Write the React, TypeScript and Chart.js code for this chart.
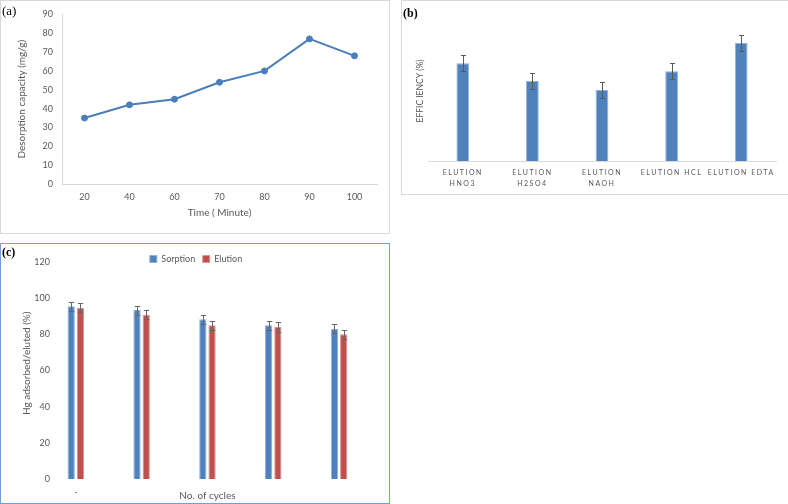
import React, { useEffect, useRef } from "react";
import { Chart, registerables } from "chart.js";

Chart.register(...registerables);

// ---------- data ----------
const timeLabels = ["20", "40", "60", "70", "80", "90", "100"];
const desorption = [35, 42, 45, 54, 60, 77, 68];

const elutionLabels: (string | string[])[] = [
  ["ELUTION", "HNO3"],
  ["ELUTION", "H2SO4"],
  ["ELUTION", "NAOH"],
  "ELUTION HCL",
  "ELUTION EDTA",
];
const efficiency = [69.8, 57.4, 50.7, 64.1, 84.3];
const efficiencyErr = [5.7, 5.7, 5.7, 5.7, 5.7];

const cycleLabels = ["-", "", "", "", ""];
const sorption = [95.5, 93.3, 88.3, 85, 83];
const elution = [94.5, 90.8, 85, 84, 80];
const sorptionErr = [2.5, 2.5, 2.5, 2.5, 2.5];
const elutionErr = [2.5, 2.5, 2.5, 2.5, 2.5];

// ---------- styles ----------
const FONT = "Lato";
const TXT = "#595959";
const AXIS = "#d9d9d9";
const BLUE = "#4f81bd";
const RED = "#c0504d";
const LINE = "#4a7ebb";

Chart.defaults.font.family = FONT;

const errorBars = (cap: number, color: string) => ({
  id: "errorBars",
  afterDatasetsDraw(chart: any) {
    const ctx = chart.ctx;
    const y = chart.scales.y;
    chart.data.datasets.forEach((ds: any, i: number) => {
      const errs = ds.errors;
      if (!errs) return;
      const meta = chart.getDatasetMeta(i);
      meta.data.forEach((bar: any, j: number) => {
        const v = ds.data[j];
        const e = errs[j];
        const x = Math.round(bar.x) + 0.5;
        const t = Math.round(y.getPixelForValue(v + e)) + 0.5;
        const b = Math.round(y.getPixelForValue(v - e)) + 0.5;
        ctx.save();
        ctx.strokeStyle = color;
        ctx.lineWidth = 1;
        ctx.beginPath();
        ctx.moveTo(x, t);
        ctx.lineTo(x, b);
        ctx.moveTo(x - cap, t);
        ctx.lineTo(x + cap, t);
        ctx.moveTo(x - cap, b);
        ctx.lineTo(x + cap, b);
        ctx.stroke();
        ctx.restore();
      });
    });
  },
});

const letterSpacing = (sp: string) => ({
  id: "letterSpacing",
  afterDatasetsDraw(chart: any) {
    (chart.ctx as any).letterSpacing = sp;
  },
  afterDraw(chart: any) {
    (chart.ctx as any).letterSpacing = "0px";
  },
});

// moves the (top) legend box so that it sits beside the first tick, as in the source figure
const legendPlace = (dx: number, top: number) => ({
  id: "legendPlace",
  afterLayout(chart: any) {
    const l = chart.legend;
    if (l) {
      const h = l.bottom - l.top;
      l.top = top;
      l.bottom = top + h;
      l.left += dx;
      l.right += dx;
    }
  },
});

function useChart(ref: React.RefObject<HTMLCanvasElement>, make: () => any) {
  useEffect(() => {
    if (!ref.current) return;
    const chart = new Chart(ref.current, make());
    return () => chart.destroy();
  }, []);
}

export default function App() {
  const refA = useRef<HTMLCanvasElement>(null);
  const refB = useRef<HTMLCanvasElement>(null);
  const refC = useRef<HTMLCanvasElement>(null);

  useChart(refA, () => ({
    type: "line",
    data: {
      labels: timeLabels,
      datasets: [
        {
          data: desorption,
          borderColor: LINE,
          backgroundColor: LINE,
          borderWidth: 2,
          pointRadius: 3,
          pointBorderWidth: 1,
          pointBackgroundColor: LINE,
          pointBorderColor: LINE,
          tension: 0,
        },
      ],
    },
    options: {
      animation: false,
      responsive: false,
      devicePixelRatio: 1,
      layout: { padding: { top: 12, right: 13, left: 0, bottom: 0 } },
      plugins: { legend: { display: false }, tooltip: { enabled: false } },
      scales: {
        x: {
          offset: true,
          grid: { display: false, drawTicks: false },
          border: { display: true, color: AXIS },
          ticks: { color: TXT, font: { size: 9 }, padding: 8 },
          title: {
            display: true,
            text: "Time ( Minute)",
            color: TXT,
            font: { size: 10 },
            padding: { top: 0, bottom: 15 },
          },
          afterFit: (s: any) => {
            s.height = 50;
          },
        },
        y: {
          min: 0,
          max: 90,
          grid: { display: false, drawTicks: false },
          border: { display: true, color: AXIS },
          ticks: { stepSize: 10, color: TXT, font: { size: 9 }, padding: 9 },
          title: {
            display: true,
            text: "Desorption capacity (mg/g)",
            color: TXT,
            font: { size: 10 },
            padding: { top: 16, bottom: 0 },
          },
          afterFit: (s: any) => {
            s.width = 62;
          },
        },
      },
    },
  }));

  useChart(refB, () => ({
    type: "bar",
    data: {
      labels: elutionLabels,
      datasets: [
        {
          data: efficiency,
          errors: efficiencyErr,
          backgroundColor: BLUE,
          borderColor: "#8fb0da",
          borderWidth: 1,
          barPercentage: 0.183,
          categoryPercentage: 1,
        },
      ],
    },
    options: {
      animation: false,
      responsive: false,
      devicePixelRatio: 1,
      layout: { padding: { top: 21, right: 13, left: 0, bottom: 0 } },
      plugins: { legend: { display: false }, tooltip: { enabled: false } },
      scales: {
        x: {
          grid: { display: false, drawTicks: false },
          border: { display: true, color: AXIS },
          ticks: {
            color: TXT,
            font: { size: 7, lineHeight: 1.571 },
            padding: 5.8,
            z: 1,
            autoSkip: false,
            maxRotation: 0,
            minRotation: 0,
          },
          afterFit: (s: any) => {
            s.height = 34;
          },
        },
        y: {
          min: 0,
          max: 100,
          grid: { display: false, drawTicks: false },
          border: { display: false },
          ticks: { display: false },
          title: {
            display: true,
            text: "EFFIC IENCY (%)",
            color: TXT,
            font: { size: 8.5 },
            padding: { top: 14, bottom: 0 },
          },
          afterFit: (s: any) => {
            s.width = 27;
          },
        },
      },
    },
    plugins: [errorBars(2.5, "#595959"), letterSpacing("1.5px")],
  }));

  useChart(refC, () => ({
    type: "bar",
    data: {
      labels: cycleLabels,
      datasets: [
        {
          label: "Sorption",
          data: sorption,
          errors: sorptionErr,
          backgroundColor: BLUE,
          borderColor: "#8fb0da",
          borderWidth: 1,
          barPercentage: 0.79,
          categoryPercentage: 0.28,
        },
        {
          label: "Elution",
          data: elution,
          errors: elutionErr,
          backgroundColor: RED,
          borderColor: "#dc9593",
          borderWidth: 1,
          barPercentage: 0.79,
          categoryPercentage: 0.28,
        },
      ],
    },
    options: {
      animation: false,
      responsive: false,
      devicePixelRatio: 1,
      layout: { padding: { top: -22.3, right: 18, left: 0, bottom: 0 } },
      plugins: {
        legend: {
          display: true,
          position: "top",
          align: "center",
          labels: {
            boxWidth: 7,
            boxHeight: 7,
            padding: 7.5,
            color: TXT,
            font: { size: 9 },
          },
        },
        tooltip: { enabled: false },
      },
      scales: {
        x: {
          grid: { display: false, drawTicks: false },
          border: { display: false },
          ticks: { color: TXT, font: { size: 9 }, padding: 7.3, autoSkip: false, maxRotation: 0 },
          title: {
            display: true,
            text: "No. of cycles",
            color: TXT,
            font: { size: 10 },
            padding: { top: 0, bottom: 2 },
          },
          afterFit: (s: any) => {
            s.height = 24.7;
          },
        },
        y: {
          min: 0,
          max: 128,
          grid: { display: false, drawTicks: false },
          border: { display: false },
          ticks: {
            stepSize: 20,
            includeBounds: false,
            color: TXT,
            font: { size: 9 },
            mirror: true,
            crossAlign: "far",
            padding: -8.6,
          },
          title: {
            display: true,
            text: "Hg adsorbed/eluted (%)",
            color: TXT,
            font: { size: 10 },
            padding: { top: 21, bottom: 0 },
          },
          afterFit: (s: any) => {
            s.width = 42.9;
            s.paddingTop = 0;
            s.paddingBottom = 0;
          },
        },
      },
    },
    plugins: [errorBars(2.7, "#666666"), legendPlace(10, 4)],
  }));

  const label = (extra: React.CSSProperties): React.CSSProperties => ({
    position: "absolute",
    fontFamily: "'Liberation Serif', serif",
    fontSize: 13,
    lineHeight: "15px",
    color: "#000",
    ...extra,
  });

  return (
    <div
      style={{
        position: "fixed",
        left: 0,
        top: 0,
        width: 788,
        height: 504,
        overflow: "hidden",
        background: "#fff",
      }}
    >
      <div
        style={{
          position: "absolute",
          left: 0,
          top: 0,
          width: 390,
          height: 234,
          boxShadow: `inset 0 0 0 1px ${AXIS}`,
        }}
      >
        <canvas ref={refA} width={390} height={234} style={{ position: "absolute", left: 0, top: 0 }} />
        <span style={label({ left: 2, top: 3 })}>(a)</span>
      </div>
      <div
        style={{
          position: "absolute",
          left: 401,
          top: 0,
          width: 392,
          height: 195,
          boxShadow: `inset 0 0 0 1px ${AXIS}`,
        }}
      >
        <canvas ref={refB} width={388} height={195} style={{ position: "absolute", left: 0, top: 0 }} />
        <span style={label({ left: 2, top: 6, fontWeight: "bold", fontSize: 12 })}>(b)</span>
      </div>
      <div
        style={{
          position: "absolute",
          left: 0,
          top: 243,
          width: 390,
          height: 261,
          boxShadow: "inset 0 0 0 1px #6f9fd8",
        }}
      >
        <canvas ref={refC} width={390} height={261} style={{ position: "absolute", left: 0, top: 0 }} />
        <span style={label({ left: 2, top: 2, fontWeight: "bold", fontSize: 12 })}>(c)</span>
      </div>
    </div>
  );
}
